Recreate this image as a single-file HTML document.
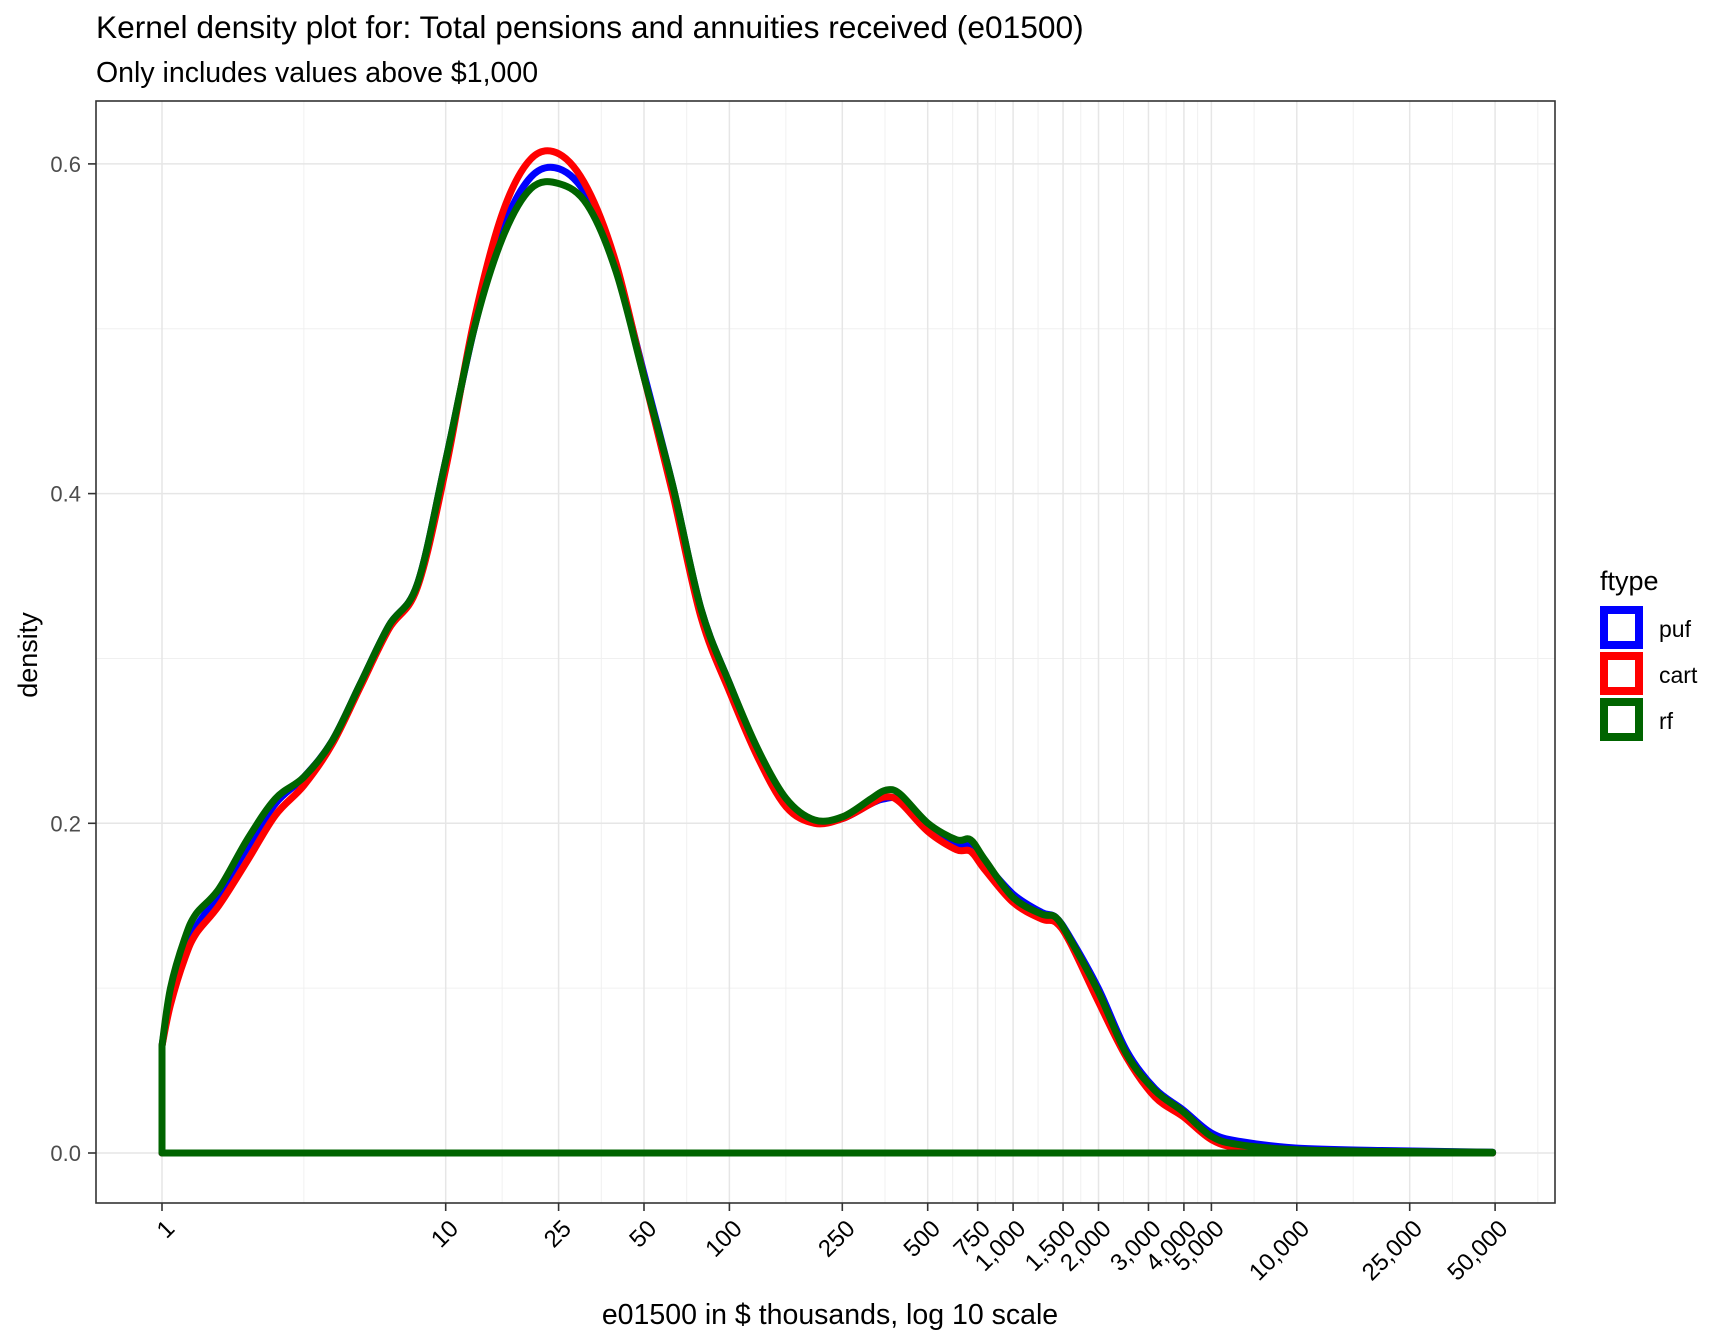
<!DOCTYPE html>
<html><head><meta charset="utf-8"><style>
html,body{margin:0;padding:0;background:#fff;}
svg{display:block;font-family:"Liberation Sans",Arial,sans-serif;}
</style></head><body>
<svg id="chart" width="1728" height="1344" viewBox="0 0 1728 1344" xmlns="http://www.w3.org/2000/svg">
<rect width="1728" height="1344" fill="#fff"/>
<text x="96" y="38" font-size="31.7" fill="#000">Kernel density plot for: Total pensions and annuities received (e01500)</text>
<text x="96" y="82" font-size="28.5" fill="#000">Only includes values above $1,000</text>
<g id="grid"></g>
<g id="series"></g>
<rect x="96" y="101" width="1459" height="1102" fill="none" stroke="#333" stroke-width="1.6"/>
<g id="axes"></g>
<text x="830" y="1324" font-size="28.5" text-anchor="middle">e01500 in $ thousands, log 10 scale</text>
<text transform="translate(37,655) rotate(-90)" font-size="27" text-anchor="middle">density</text>
<g>
<text x="1600" y="590" font-size="27">ftype</text>
<rect x="1604" y="610" width="35" height="35" fill="#fff" stroke="#0000ff" stroke-width="8"/>
<text x="1659" y="637" font-size="23">puf</text>
<rect x="1604" y="656" width="35" height="35" fill="#fff" stroke="#ff0000" stroke-width="8"/>
<text x="1659" y="683" font-size="23">cart</text>
<rect x="1604" y="702" width="35" height="35" fill="#fff" stroke="#006400" stroke-width="8"/>
<text x="1659" y="729" font-size="23">rf</text>
</g>
</svg>
<script>
const xBreaks=[1,10,25,50,100,250,500,750,1000,1500,2000,3000,4000,5000,10000,25000,50000];
const xTickLabels=["1","10","25","50","100","250","500","750","1,000","1,500","2,000","3,000","4,000","5,000","10,000","25,000","50,000"];
const yBreaks=[0,0.2,0.4,0.6];
const yTickLabels=["0.0","0.2","0.4","0.6"];
const yMinor=[0.1,0.3,0.5];
const logX=[0,0.03,0.08,0.12,0.2,0.3,0.4,0.5,0.6,0.7,0.8,0.9,1.0,1.1,1.2,1.3,1.4,1.5,1.6,1.7,1.8,1.9,2.0,2.1,2.2,2.3,2.4,2.5,2.55,2.6,2.7,2.8,2.85,2.9,3.0,3.1,3.15,3.2,3.3,3.4,3.5,3.6,3.7,3.8,4.0,4.3,4.69];
const pufDensity=[0.065,0.095,0.122,0.137,0.157,0.185,0.212,0.228,0.25,0.285,0.32,0.345,0.42,0.5,0.56,0.592,0.597,0.58,0.537,0.472,0.405,0.33,0.285,0.244,0.213,0.201,0.203,0.212,0.215,0.214,0.198,0.188,0.186,0.176,0.157,0.146,0.143,0.131,0.1,0.062,0.039,0.026,0.012,0.007,0.003,0.0015,0.0005];
const cartDensity=[0.065,0.09,0.118,0.133,0.15,0.177,0.205,0.223,0.248,0.283,0.318,0.343,0.415,0.505,0.57,0.603,0.606,0.585,0.54,0.47,0.4,0.325,0.28,0.24,0.21,0.2,0.203,0.212,0.216,0.213,0.195,0.184,0.183,0.172,0.152,0.142,0.14,0.128,0.092,0.058,0.034,0.022,0.008,0.003,0.001,0.0005,0.0003];
const rfDensity=[0.065,0.1,0.13,0.145,0.16,0.19,0.215,0.228,0.25,0.285,0.32,0.345,0.42,0.5,0.555,0.585,0.588,0.575,0.535,0.47,0.405,0.33,0.285,0.245,0.215,0.202,0.204,0.215,0.22,0.218,0.2,0.19,0.19,0.178,0.155,0.145,0.143,0.13,0.098,0.06,0.038,0.025,0.01,0.005,0.002,0.001,0.0005];
const seriesNames=["puf","cart","rf"];
const seriesColors=["#0000ff","#ff0000","#006400"];

const NS="http://www.w3.org/2000/svg";
const L=96,R=1555,T=101,B=1203;
const xScale=l=>162+283.7*l;
const xOf=v=>xScale(Math.log10(v));
const yScale=d=>1153-1648.5*d;
function mk(tag,attrs,parent){const e=document.createElementNS(NS,tag);for(const k in attrs)e.setAttribute(k,attrs[k]);parent.appendChild(e);return e;}
const grid=document.getElementById('grid'),axes=document.getElementById('axes'),ser=document.getElementById('series');
const lb=xBreaks.map(v=>Math.log10(v));
const minorL=[lb[0]-(lb[1]-lb[0])/2];
for(let i=0;i<lb.length-1;i++)minorL.push((lb[i]+lb[i+1])/2);
minorL.push(lb[lb.length-1]+(lb[lb.length-1]-lb[lb.length-2])/2);
minorL.forEach(l=>{const x=xScale(l);if(x>L&&x<R){const e=mk('line',{x1:x,x2:x,y1:T,y2:B,stroke:'#f0f0f0','stroke-width':1},grid);

}});
yMinor.forEach(d=>{const y=yScale(d);const e=mk('line',{x1:L,x2:R,y1:y,y2:y,stroke:'#f0f0f0','stroke-width':1},grid);

});
xBreaks.forEach((v,i)=>{const x=xOf(v);
const g=mk('line',{x1:x,x2:x,y1:T,y2:B,stroke:'#e6e6e6','stroke-width':1.5},grid);


const t=mk('line',{x1:x,x2:x,y1:B,y2:B+8,stroke:'#333','stroke-width':1.6},axes);


const tx=mk('text',{'font-size':24,'text-anchor':'end',fill:'#000',transform:`translate(${x+14},${B+27}) rotate(-45)`},axes);
tx.textContent=xTickLabels[i];

});
yBreaks.forEach((d,i)=>{const y=yScale(d);
const g=mk('line',{x1:L,x2:R,y1:y,y2:y,stroke:'#e6e6e6','stroke-width':1.5},grid);


const t=mk('line',{x1:L-8,x2:L,y1:y,y2:y,stroke:'#333','stroke-width':1.6},axes);


const tx=mk('text',{x:81,y:y+8,'font-size':22,'text-anchor':'end',fill:'#4d4d4d'},axes);
tx.textContent=yTickLabels[i];

});
function smooth(pts){let d=`L${pts[0][0].toFixed(1)},${pts[0][1].toFixed(1)}`;
for(let i=0;i<pts.length-1;i++){const p0=pts[Math.max(0,i-1)],p1=pts[i],p2=pts[i+1],p3=pts[Math.min(pts.length-1,i+2)];
const c1=[p1[0]+(p2[0]-p0[0])/6,p1[1]+(p2[1]-p0[1])/6],c2=[p2[0]-(p3[0]-p1[0])/6,p2[1]-(p3[1]-p1[1])/6];
d+=` C${c1[0].toFixed(1)},${c1[1].toFixed(1)} ${c2[0].toFixed(1)},${c2[1].toFixed(1)} ${p2[0].toFixed(1)},${p2[1].toFixed(1)}`;}
return d;}
[pufDensity,cartDensity,rfDensity].forEach((arr,s)=>{
const pts=logX.map((l,i)=>[xScale(l),yScale(arr[i])]);
let d=`M${xScale(logX[0])},${yScale(0)} `+smooth(pts);
d+=` L${xScale(logX[logX.length-1])},${yScale(0)} Z`;
const p=mk('path',{d:d,fill:'none',stroke:seriesColors[s],'stroke-width':7,'stroke-linejoin':'round','stroke-linecap':'round'},ser);

});
</script>
</body></html>
